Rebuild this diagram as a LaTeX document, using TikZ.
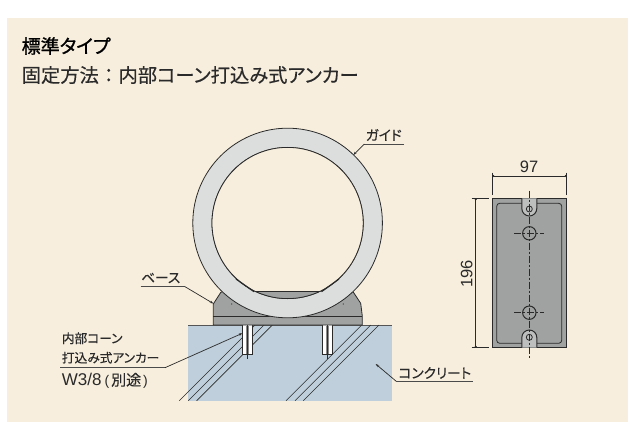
\documentclass[tikz,border=0pt]{standalone}
\usepackage{fontspec}
\setmainfont{Noto Sans CJK JP}
\newfontfamily\latinfont{Liberation Sans}
\newfontfamily\jplabel[FakeBold=0.3,RawFeature={+palt}]{Noto Sans CJK JP}
\newfontfamily\jptitle[FakeBold=1.1,RawFeature={+palt}]{Noto Sans CJK JP}
\usetikzlibrary{arrows.meta}
\definecolor{PanelBeige}{HTML}{F7EEDD}
\definecolor{ConcreteBlue}{HTML}{BFCFDB}
\definecolor{BaseGray}{HTML}{A0A2A2}
\definecolor{RingGray}{HTML}{DCDEDE}
\definecolor{LineDark}{HTML}{2A2A2A}
\tikzset{
  outline/.style={draw=LineDark, line width=0.8pt},
  leader/.style={draw=LineDark, line width=0.7pt, -{Stealth[length=3.5pt,width=2.5pt]}},
  underline/.style={draw=LineDark!85, line width=0.9pt},
  hatchline/.style={draw=LineDark, line width=0.6pt},
  centerline/.style={draw=LineDark, line width=0.6pt, dash pattern=on 7pt off 2pt on 2pt off 2pt},
  dimline/.style={draw=LineDark, line width=0.6pt, {Circle[length=2pt]}-{Circle[length=2pt]}},
  extline/.style={draw=LineDark, line width=0.6pt},
  labeltext/.style={font=\jplabel\fontsize{13.7}{13}\selectfont, text=LineDark, inner sep=0pt, anchor=west},
  anchortext/.style={font=\jplabel\fontsize{12.7}{13}\selectfont, text=LineDark, inner sep=0pt, anchor=west},
  dimtext/.style={font=\latinfont\fontsize{16.5}{16}\selectfont, text=LineDark, inner sep=0pt}
}
\begin{document}
\begin{tikzpicture}[x=1pt,y=-1pt]
  \useasboundingbox (0,0) rectangle (628,422);
  % Panel
  \fill[PanelBeige] (7,18) rectangle (628,422);
  \node[font=\jptitle\fontsize{19}{19}\selectfont, text=black, inner sep=0pt, anchor=west] (title) at (21.5,46) {標準タイプ};
  \node[font=\jplabel\fontsize{19.3}{20}\selectfont, text=LineDark, inner sep=0pt, anchor=west] (subtitle) at (21.5,75) {固定方法\hspace{5pt}：\hspace{5pt}内部コーン打込み式アンカー};

  % Concrete
  \fill[ConcreteBlue] (188,325) rectangle (392,400.7);
  \draw[LineDark!80, line width=0.9pt] (188,325) -- (392,325);

  % Hatching
  \draw[hatchline] (179.3,400.7) -- (255,325);
  \draw[hatchline] (188.3,400.7) -- (264,325);
  \draw[hatchline] (196.7,400.7) -- (272.4,325);
  \draw[hatchline] (286,400.7) -- (361.7,325);
  \draw[hatchline] (295,400.7) -- (370.7,325);
  \draw[hatchline] (303.3,400.7) -- (379,325);

  % Anchors
  \foreach \ax in {247.5,327.5} {
    \fill[white] (\ax-5,325) rectangle (\ax+5,354.5);
    \fill[LineDark!55] (\ax-1.5,326) rectangle (\ax+1.5,354);
    \draw[LineDark, line width=1.3pt] (\ax-5,325) -- (\ax-5,354.5) -- (\ax+5,354.5) -- (\ax+5,325);
    \draw[LineDark, line width=0.5pt] (\ax,320.7) -- (\ax,359);
  }

  % Base
  \draw[outline, fill=BaseGray] (213.3,325) -- (213.3,304) -- (220.7,292.5) -- (222,291.7)
    -- (353,291.7) -- (360.7,303.3) -- (362.3,316) -- (362.3,325) -- cycle;
  \draw[outline] (213.3,316.5) -- (362.3,316.5);
  \fill[LineDark] (231.7,304) circle (0.6);
  \fill[LineDark] (343.3,304) circle (0.6);

  % Guide ring
  \draw[outline, fill=RingGray, even odd rule] (287.6,223) circle (94.8) (287.6,223) circle (75.6);
  \begin{scope}
    \clip (287.6,223) circle (75.6);
    \fill[PanelBeige] (200,130) rectangle (375,291.7);
    \fill[BaseGray] (200,291.7) rectangle (375,300);
    \draw[outline] (250,291.7) -- (325,291.7);
  \end{scope}
  \draw[outline] (287.6,223) circle (75.6);
  \draw[LineDark, line width=1.2pt] (236,279) -- (254,291.7);
  \draw[LineDark, line width=1.2pt] (339,279) -- (321.5,291.7);

  % Front view of base
  \draw[draw=LineDark, line width=1pt, fill=BaseGray] (492.3,198.3) rectangle (566.7,347.7);
  \draw[outline, rounded corners=3pt] (496.7,203.3) rectangle (561.7,343.3);
  % Slots
  \draw[draw=LineDark, line width=1pt, fill=BaseGray!70] (521.8,198.3) -- (521.8,208.5) arc (180:0:7.5) -- (536.8,198.3);
  \draw[draw=LineDark, line width=1pt, fill=BaseGray!70] (521.8,347.7) -- (521.8,337.5) arc (180:360:7.5) -- (536.8,347.7);
  \draw[outline] (529.3,209) circle (3);
  \draw[outline] (529.3,337.3) circle (3);
  % Holes
  \draw[draw=LineDark, line width=1pt] (529.3,233.3) circle (6.7);
  \draw[draw=LineDark, line width=1pt] (529.3,312.7) circle (6.7);
  \draw[centerline] (514.3,233.3) -- (544.3,233.3);
  \draw[centerline] (514.3,312.7) -- (544.3,312.7);
  \draw[centerline] (529.3,190.7) -- (529.3,359.3);

  % Dimensions
  \coordinate (widthL) at (492.3,176);
  \coordinate (widthR) at (566.7,176);
  \coordinate (heightT) at (475.7,198.3);
  \coordinate (heightB) at (475.7,347.7);
  \draw[extline] (492.3,172.7) -- (492.3,195);
  \draw[extline] (566.7,172.7) -- (566.7,195);
  \draw[extline] (471.7,198.3) -- (489,198.3);
  \draw[extline] (471.7,347.7) -- (489,347.7);
  \draw[dimline] (widthL) -- (widthR);
  \draw[dimline] (heightT) -- (heightB);
  \node[dimtext] (dimW) at (529,167.3) {97};
  \node[dimtext, rotate=90] (dimH) at (466.7,274) {196};

  % Labels
  \node[labeltext] (guideLabel) at (365.5,135) {ガイド};
  \coordinate (guideA) at (404,144);
  \coordinate (guideB) at (364.3,144);
  \coordinate (guideEnd) at (353.3,155);
  \draw[underline] (guideA) -- (guideB);
  \draw[leader] (guideB) -- (guideEnd);

  \node[labeltext] (baseLabel) at (141,278) {ベース};
  \coordinate (baseA) at (140.7,286.7);
  \coordinate (baseB) at (185,286.7);
  \coordinate (baseEnd) at (213.3,303.5);
  \draw[underline] (baseA) -- (baseB);
  \draw[leader] (baseB) -- (baseEnd);

  \node[anchortext] (anchorLabelA) at (61.7,338.3) {内部コーン};
  \node[anchortext] (anchorLabelB) at (61.7,357.7) {打込み式アンカー};
  \node[anchortext] (anchorLabelC) at (61.7,380.7) {{\latinfont\fontsize{17}{16}\selectfont W3/8}\hspace{3pt}{\latinfont\fontsize{14}{14}\selectfont(}\hspace{2pt}{\fontsize{15}{14}\selectfont 別途}\hspace{2pt}{\latinfont\fontsize{14}{14}\selectfont)}};
  \coordinate (anchorA) at (60,367.7);
  \coordinate (anchorB) at (165,367.7);
  \coordinate (anchorEnd) at (242.3,333.3);
  \draw[underline] (anchorA) -- (anchorB);
  \draw[leader] (anchorB) -- (anchorEnd);

  \node[labeltext] (concreteLabel) at (398.3,373) {コンクリート};
  \coordinate (concreteA) at (472.7,381.7);
  \coordinate (concreteB) at (396.7,381.7);
  \coordinate (concreteEnd) at (375.7,364);
  \draw[underline] (concreteA) -- (concreteB);
  \draw[leader] (concreteB) -- (concreteEnd);
\end{tikzpicture}
\end{document}
